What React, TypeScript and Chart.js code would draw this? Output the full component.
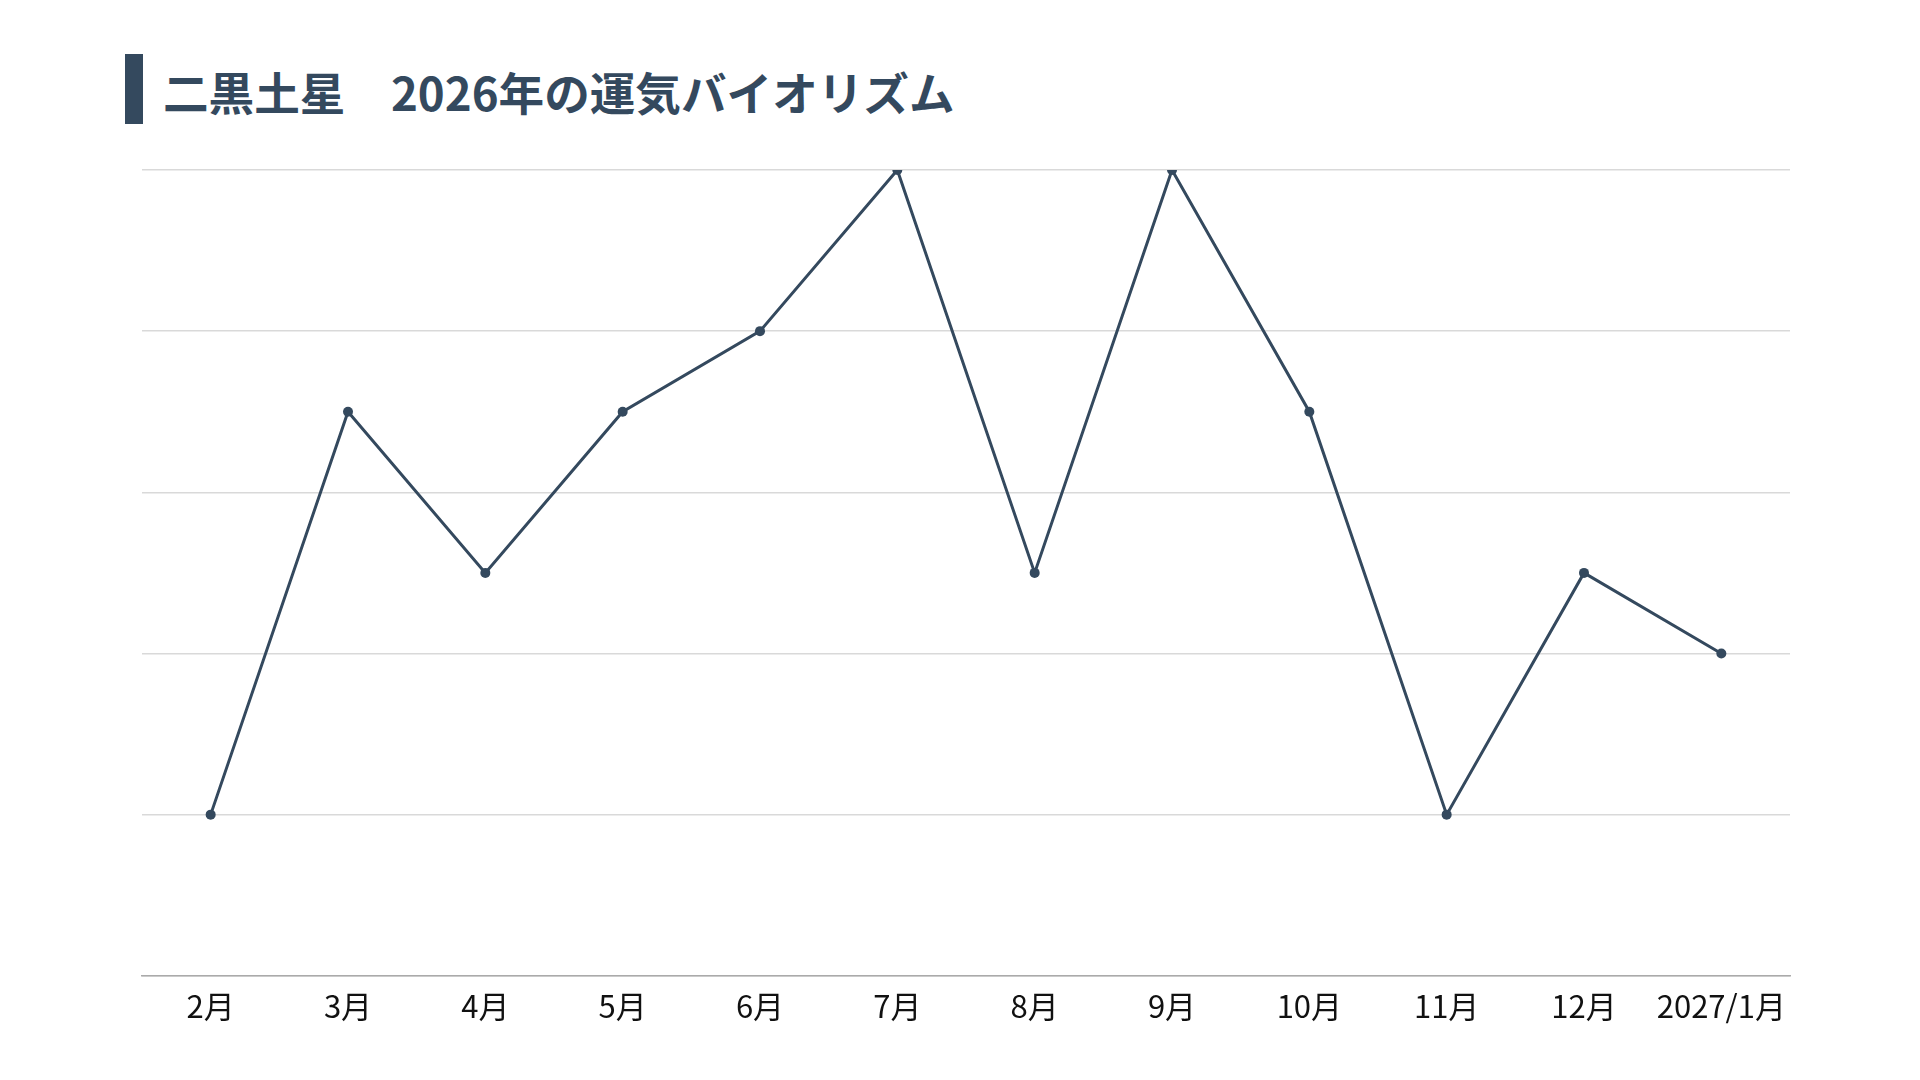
import React, { useEffect, useRef } from "react";
import { Chart, registerables } from "chart.js";

Chart.register(...registerables);

const titleText = "二黒土星　2026年の運気バイオリズム";
const categories = ["2月", "3月", "4月", "5月", "6月", "7月", "8月", "9月", "10月", "11月", "12月", "2027/1月"];
const fortuneValues = [1, 3.5, 2.5, 3.5, 4, 5, 2.5, 5, 3.5, 1, 2.5, 2];
const yMin = 0;
const yMax = 5;

const mainColor = "#34495e";

export default function App() {
  const canvasRef = useRef<HTMLCanvasElement | null>(null);

  useEffect(() => {
    document.body.style.margin = "0";
    const canvas = canvasRef.current;
    if (!canvas) return;
    const chart = new Chart(canvas, {
      type: "line",
      data: {
        labels: categories,
        datasets: [
          {
            data: fortuneValues,
            borderColor: mainColor,
            backgroundColor: mainColor,
            borderWidth: 3,
            pointRadius: 5,
            pointHoverRadius: 5,
            pointBorderWidth: 0,
            pointBackgroundColor: mainColor,
            pointBorderColor: mainColor,
            tension: 0,
            fill: false,
          },
        ],
      },
      options: {
        animation: false,
        responsive: false,
        maintainAspectRatio: false,
        layout: { padding: { left: 142, right: 130, top: 170, bottom: 43 } },
        plugins: {
          legend: { display: false },
          title: { display: false },
          tooltip: { enabled: false },
        },
        scales: {
          x: {
            offset: true,
            grid: { display: false, drawTicks: false },
            border: { display: true, color: "#aaaaaa", width: 1.5 },
            ticks: {
              color: "#111111",
              padding: 12,
              maxRotation: 0,
              autoSkip: false,
              font: { family: "'Noto Sans CJK JP', 'Noto Sans', sans-serif", size: 31 },
            },
          },
          y: {
            min: yMin,
            max: yMax,
            ticks: { display: false, stepSize: 1 },
            grid: { color: "#d9d9d9", lineWidth: 1.5, drawTicks: false },
            border: { display: false },
          },
        },
      },
    });
    return () => chart.destroy();
  }, []);

  return (
    <div style={{ position: "fixed", left: 0, top: 0, width: 1920, height: 1080, background: "#ffffff" }}>
      <div
        style={{
          position: "absolute",
          left: 125,
          top: 54,
          width: 18,
          height: 70,
          background: mainColor,
        }}
      />
      <div
        style={{
          position: "absolute",
          left: 163,
          top: 56,
          height: 70,
          lineHeight: "70px",
          fontFamily: "'Noto Sans CJK JP', sans-serif",
          fontWeight: 700,
          fontSize: 45.6,
          color: mainColor,
          whiteSpace: "pre",
        }}
      >
        {titleText}
      </div>
      <canvas ref={canvasRef} width={1920} height={1080} style={{ position: "absolute", left: 0, top: 0 }} />
    </div>
  );
}
